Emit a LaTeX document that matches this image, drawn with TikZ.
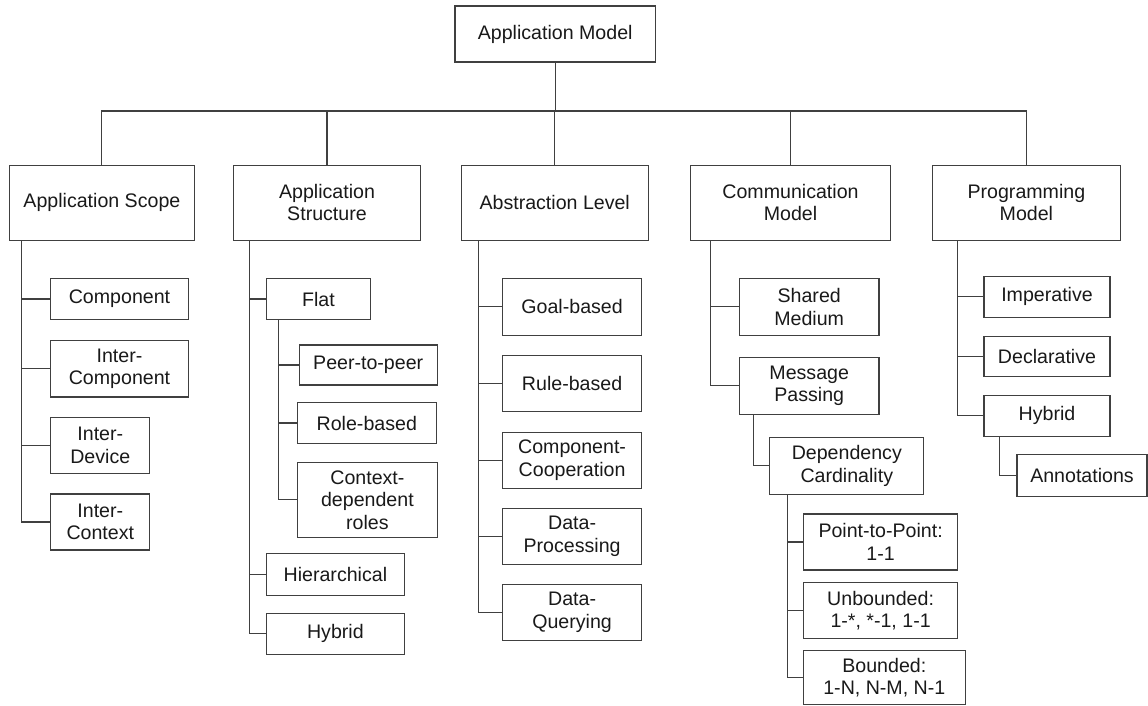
\documentclass[tikz,border=0pt]{standalone}
\usepackage{fontspec}
\setmainfont{Liberation Sans}
\tikzset{
  box/.style={draw=black!75, line width=1.1pt, align=center, inner sep=0pt,
    text=black!90, font=\fontsize{19.6}{22.5}\selectfont},
  link/.style={draw=black!75, line width=1.1pt}
}
\begin{document}
\begin{tikzpicture}[x=1pt, y=-1pt]
    \useasboundingbox (0,0) rectangle (1148,706);

    \node[box, minimum width=200.5, minimum height=56] at (555.2,34) (root) {Application Model};

    \node[box, minimum width=185.4, minimum height=75.3] at (101.9,202.7) (scope) {Application Scope};
    \node[box, minimum width=186.5, minimum height=75.3] at (327,202.7) (struct) {Application\\Structure};
    \node[box, minimum width=186.7, minimum height=75.3] at (554.7,202.7) (abstr) {Abstraction Level};
    \node[box, minimum width=199.8, minimum height=75.3] at (790.5,202.7) (comm) {Communication\\Model};
    \node[box, minimum width=187.5, minimum height=75.3] at (1026.4,202.7) (prog) {Programming\\Model};

    % application scope
    \node[box, minimum width=137.6, minimum height=40.6] at (119.5,299) (comp) {Component};
    \node[box, minimum width=137.6, minimum height=56.3] at (119.5,368.8) (intercomp) {Inter-\\Component};
    \node[box, minimum width=99.1, minimum height=56.4] at (100.3,445.5) (interdev) {Inter-\\Device};
    \node[box, minimum width=99.1, minimum height=56] at (100.3,522) (interctx) {Inter-\\Context};

    % application structure
    \node[box, minimum width=103.6, minimum height=40.6] at (318.5,299) (flat) {Flat};
    \node[box, minimum width=138.3, minimum height=40] at (368.2,365) (peer) {Peer-to-peer};
    \node[box, minimum width=138.8, minimum height=41.4] at (366.8,423) (role) {Role-based};
    \node[box, minimum width=139.9, minimum height=75] at (367.4,499.8) (ctxdep) {Context-\\dependent\\roles};
    \node[box, minimum width=137.3, minimum height=41.3] at (335.4,574.4) (hier) {Hierarchical};
    \node[box, minimum width=137.3, minimum height=41] at (335.4,633.8) (shybrid) {Hybrid};

    % abstraction level
    \node[box, minimum width=138.6, minimum height=56.3] at (572.1,306.9) (goal) {Goal-based};
    \node[box, minimum width=138.6, minimum height=56] at (572.1,383.7) (rule) {Rule-based};
    \node[box, minimum width=138.6, minimum height=56] at (572.1,460.3) (coop) {Component-\\Cooperation};
    \node[box, minimum width=138.6, minimum height=55.3] at (572.1,536.4) (dproc) {Data-\\Processing};
    \node[box, minimum width=138.6, minimum height=56.4] at (572.1,612.5) (dquery) {Data-\\Querying};

    % communication model
    \node[box, minimum width=139.5, minimum height=56.3] at (809.2,306.9) (shared) {Shared\\Medium};
    \node[box, minimum width=139.5, minimum height=56.3] at (809.2,385.9) (msg) {Message\\Passing};
    \node[box, minimum width=153.9, minimum height=56.3] at (846.8,465.9) (depcard) {Dependency\\Cardinality};
    \node[box, minimum width=154.3, minimum height=56] at (880.6,542) (ptp) {Point-to-Point:\\1-1};
    \node[box, minimum width=154.3, minimum height=56.4] at (880.6,610.5) (unb) {Unbounded:\\1-*, *-1, 1-1};
    \node[box, minimum width=161.7, minimum height=53.6] at (884.3,677.5) (bnd) {Bounded:\\1-N, N-M, N-1};

    % programming model
    \node[box, minimum width=126, minimum height=40.3] at (1047,296.9) (imp) {Imperative};
    \node[box, minimum width=126, minimum height=40] at (1047,356.7) (decl) {Declarative};
    \node[box, minimum width=126, minimum height=41.3] at (1047,415.7) (phybrid) {Hybrid};
    \node[box, minimum width=130, minimum height=41.7] at (1082,475.2) (annot) {Annotations};

    % top level bus
    \coordinate (bus) at (555.2,111);
    \draw[link] (root) -- (bus)
      (scope.north) |- (bus) -| (prog.north)
      (struct.north) -- (struct.north |- bus)
      (abstr.north) -- (abstr.north |- bus)
      (comm.north) -- (comm.north |- bus);

    \draw[link] ([xshift=13pt]scope.south west) |- (interctx.west)
      ([xshift=13pt]scope.south west) |- (comp.west)
      ([xshift=13pt]scope.south west) |- (intercomp.west)
      ([xshift=13pt]scope.south west) |- (interdev.west);

    \draw[link] ([xshift=16pt]struct.south west) |- (shybrid.west)
      ([xshift=16pt]struct.south west) |- (flat.west)
      ([xshift=16pt]struct.south west) |- (hier.west);
    \draw[link] ([xshift=12pt]flat.south west) |- (ctxdep.west)
      ([xshift=12pt]flat.south west) |- (peer.west)
      ([xshift=12pt]flat.south west) |- (role.west);

    \draw[link] ([xshift=17.4pt]abstr.south west) |- (dquery.west)
      ([xshift=17.4pt]abstr.south west) |- (goal.west)
      ([xshift=17.4pt]abstr.south west) |- (rule.west)
      ([xshift=17.4pt]abstr.south west) |- (coop.west)
      ([xshift=17.4pt]abstr.south west) |- (dproc.west);

    \draw[link] ([xshift=20.4pt]comm.south west) |- (msg.west)
      ([xshift=20.4pt]comm.south west) |- (shared.west);
    \draw[link] ([xshift=14.5pt]msg.south west) |- (depcard.west);
    \draw[link] ([xshift=18pt]depcard.south west) |- (bnd.west)
      ([xshift=18pt]depcard.south west) |- (ptp.west)
      ([xshift=18pt]depcard.south west) |- (unb.west);

    \draw[link] ([xshift=25pt]prog.south west) |- (phybrid.west)
      ([xshift=25pt]prog.south west) |- (imp.west)
      ([xshift=25pt]prog.south west) |- (decl.west);
    \draw[link] ([xshift=16.3pt]phybrid.south west) |- (annot.west);
\end{tikzpicture}
\end{document}
